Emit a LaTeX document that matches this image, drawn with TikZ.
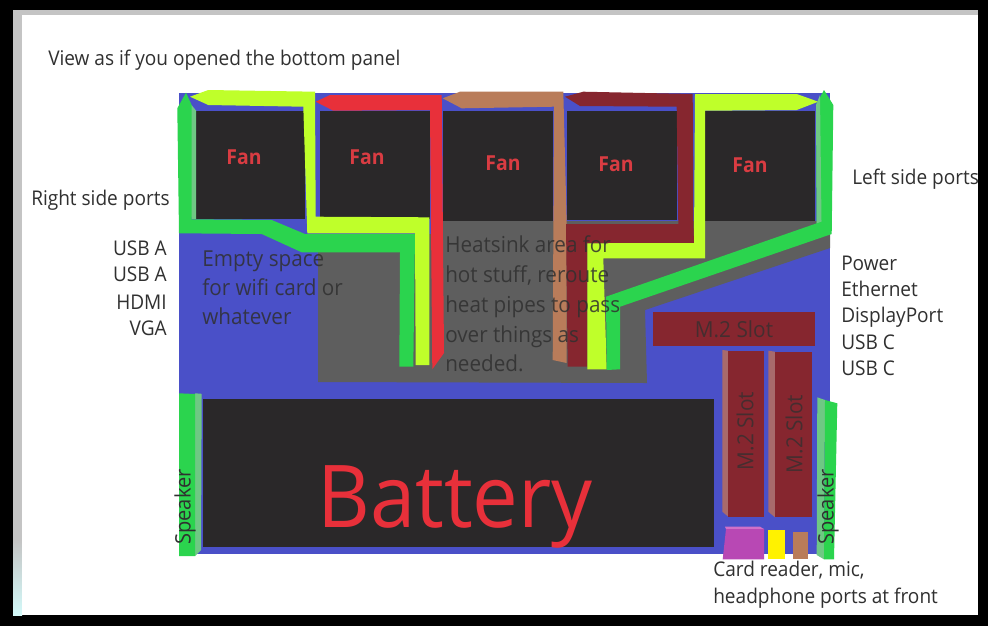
\documentclass[tikz,border=0pt]{standalone}
\usepackage{fontspec}
\setmainfont{Open Sans}[FakeStretch=0.94]
\definecolor{boardblue}{HTML}{4A50C8}
\definecolor{heatgray}{HTML}{5E5E5E}
\definecolor{fandark}{HTML}{2A2829}
\definecolor{pipegreen}{HTML}{2BD44E}
\definecolor{pipeshade}{HTML}{6FC884}
\definecolor{pipelime}{HTML}{BFFF2A}
\definecolor{pipered}{HTML}{E8303A}
\definecolor{pipebrown}{HTML}{B97C5A}
\definecolor{pipemaroon}{HTML}{86262F}
\definecolor{slotshade}{HTML}{A86A6C}
\definecolor{cardpurple}{HTML}{B848B4}
\definecolor{cardtop}{HTML}{D070C8}
\definecolor{inkdark}{HTML}{303030}
\definecolor{fanred}{HTML}{D93C42}
\definecolor{framegray}{HTML}{C4C4C4}
\tikzset{
  labeltext/.style={anchor=base west,inner sep=0pt,text=inkdark,font=\fontsize{15.2pt}{18pt}\selectfont},
  rightlabel/.style={labeltext,anchor=base east},
  boardnote/.style={labeltext,opacity=.85,font=\fontsize{16.5pt}{19pt}\selectfont},
  fanbox/.style={fill=fandark},
  fanlabel/.style={inner sep=0pt,text=fanred,font=\fontsize{15.5pt}{18pt}\selectfont\bfseries},
  slot/.style={fill=pipemaroon},
  slotlabel/.style={inner sep=0pt,text=inkdark,opacity=.75,font=\fontsize{16.6pt}{19pt}\selectfont},
  speakerlabel/.style={inner sep=0pt,rotate=90,text=inkdark,font=\fontsize{16pt}{19pt}\selectfont},
}
\begin{document}
\begin{tikzpicture}[x=0.75pt,y=-0.75pt]
\useasboundingbox (0,0) rectangle (988,626);
% frame
\fill[black] (0,0) rectangle (988,626);
\fill[framegray] (13,10) rectangle (978,615);
\shade[top color=framegray,bottom color=framegray!40!cyan!25!white] (13,540) rectangle (22,615);
\fill[white] (22,15) rectangle (978,615);
% board
\fill[boardblue] (179,93) rectangle (830,554);
% heatsink
\fill[heatgray] (443,221) -- (830,221) -- (830,248) -- (645,310) -- (647,383) -- (318,382) -- (318,234) -- (443,234) -- cycle;
% fans
\fill[fanbox] (196,110.5) rectangle (305,219);
\fill[fanbox] (320,110.5) rectangle (430,219);
\fill[fanbox] (443,110.5) rectangle (553,221);
\fill[fanbox] (567,111) rectangle (677,220);
\fill[fanbox] (705,111) rectangle (815,221);
% pipes
\fill[pipebrown] (442.7,98.3) -- (460,91.7) -- (563.3,91.7) -- (566.7,223) -- (566.7,363) -- (552.7,360) -- (554,106.7) -- (461.7,108.3) -- cycle;
\fill[pipemaroon] (565,96.7) -- (583.3,91.7) -- (692.7,94) -- (693.3,223) -- (694,243.3) -- (587.3,243.3) -- (587.3,366.7) -- (567.7,366.7) -- (566,224) -- (678.3,224) -- (676.7,106.7) -- (580,106) -- cycle;
\fill[pipered] (315.7,101.7) -- (330,95) -- (441.7,95) -- (444,353) -- (432.3,369.3) -- (430,110) -- (333.3,110.7) -- cycle;
\fill[pipegreen] (186,92.7) -- (194,110) -- (191.7,219.3) -- (271.7,220) -- (305,234) -- (415,234) -- (413.3,366.7) -- (399.3,366.7) -- (400,252.3) -- (301.7,252.3) -- (261.7,234) -- (179,233.3) -- (177.3,108.3) -- cycle;
\fill[pipeshade] (191.5,105) -- (196,110.5) -- (196,219) -- (191.7,219) -- cycle;
\fill[pipelime] (190,96.7) -- (208.3,90) -- (315,91.7) -- (315.7,216.7) -- (429.3,217.3) -- (429.3,365) -- (415.7,365) -- (415,233.3) -- (307.3,233.3) -- (303.3,106.7) -- (208.3,105) -- cycle;
\fill[pipelime] (818.3,101.7) -- (796.7,94) -- (695,94) -- (694,243) -- (587.3,243.3) -- (587.3,369.3) -- (606.7,369.3) -- (603.3,258.3) -- (705,258.3) -- (705,110.7) -- (796.7,110) -- cycle;
\fill[pipegreen] (824,90) -- (833.3,105) -- (831.7,234) -- (620,306.7) -- (620,369.3) -- (606.7,370) -- (606,296.7) -- (816.7,223.3) -- (816,105) -- cycle;
\fill[pipeshade] (816,105) -- (820,95) -- (821.5,221.5) -- (816.7,223.3) -- cycle;
% slots
\fill[slot] (653.3,311.7) rectangle (815,346);
\fill[slotshade] (722.3,350) -- (728.3,350.7) -- (728.3,516.7) -- (722.3,511.7) -- cycle;
\fill[slot] (728.3,350.7) rectangle (764,516.7);
\fill[slotshade] (768.3,350.7) -- (775,351.7) -- (775,517.3) -- (768.3,511.7) -- cycle;
\fill[slot] (775,351.7) rectangle (811.7,517.3);
% battery
\fill[fandark] (202.7,399.3) rectangle (714,547.3);
% speakers
\fill[pipeshade] (195,393.3) -- (201.7,393.8) -- (201,550) -- (195,556) -- cycle;
\fill[pipegreen] (179,393.3) -- (195,394) -- (195,556) -- (179,556) -- cycle;
\fill[pipeshade] (817.3,397.3) -- (825,400) -- (824,559.3) -- (816.7,555) -- cycle;
\fill[pipegreen] (825,400) -- (837.3,403.3) -- (834,559.3) -- (824,559.3) -- cycle;
% front ports
\fill[cardtop] (725,526.7) -- (760,526.7) -- (764,529) -- (726,529) -- cycle;
\fill[cardpurple] (726,529) -- (764,529) -- (764,559.3) -- (722.7,559.3) -- cycle;
\fill[yellow] (768,530) rectangle (785,558.7);
\fill[pipebrown] (793,532) rectangle (808,558.7);
% texts
\node[labeltext] (title) at (48,65) {View as if you opened the bottom panel};
\node[labeltext] (rightports) at (31,205) {Right side ports};
\node[labeltext] (leftports) at (852,184) {Left side ports};
\node[rightlabel] (usba1) at (167,255) {USB A};
\node[rightlabel] (usba2) at (167,281) {USB A};
\node[rightlabel] (hdmi) at (167,309) {HDMI};
\node[rightlabel] (vga) at (167,335) {VGA};
\node[labeltext] (power) at (841,270) {Power};
\node[labeltext] (ether) at (841,296) {Ethernet};
\node[labeltext] (dp) at (841,322) {DisplayPort};
\node[labeltext] (usbc1) at (841,349) {USB C};
\node[labeltext] (usbc2) at (841,375) {USB C};
\node[boardnote] (empty1) at (202,266) {Empty space};
\node[boardnote] (empty2) at (202,295) {for wifi card or};
\node[boardnote] (empty3) at (202,324) {whatever};
\node[boardnote] (heat1) at (445,252) {Heatsink area for};
\node[boardnote] (heat2) at (445,282) {hot stuff, reroute};
\node[boardnote] (heat3) at (445,312) {heat pipes to pass};
\node[boardnote] (heat4) at (445,342) {over things as};
\node[boardnote] (heat5) at (445,371) {needed.};
\node[fanlabel] (fan1) at (244,157) {Fan};
\node[fanlabel] (fan2) at (367,157) {Fan};
\node[fanlabel] (fan3) at (503,163) {Fan};
\node[fanlabel] (fan4) at (616,164) {Fan};
\node[fanlabel] (fan5) at (750,165) {Fan};
\node[slotlabel] (slot1) at (734,329) {M.2 Slot};
\node[slotlabel,rotate=90] (slot2) at (745,431) {M.2 Slot};
\node[slotlabel,rotate=90] (slot3) at (794,434) {M.2 Slot};
\node[speakerlabel] (spk1) at (185,507) {Speaker};
\node[speakerlabel] (spk2) at (828,507) {Speaker};
\node[anchor=base west,inner sep=0pt,text=pipered,font=\fontsize{65pt}{72pt}\selectfont] (battery) at (317,527) {Battery};
\node[labeltext] (card1) at (713,576) {Card reader, mic,};
\node[labeltext] (card2) at (713,603) {headphone ports at front};
\end{tikzpicture}
\end{document}
